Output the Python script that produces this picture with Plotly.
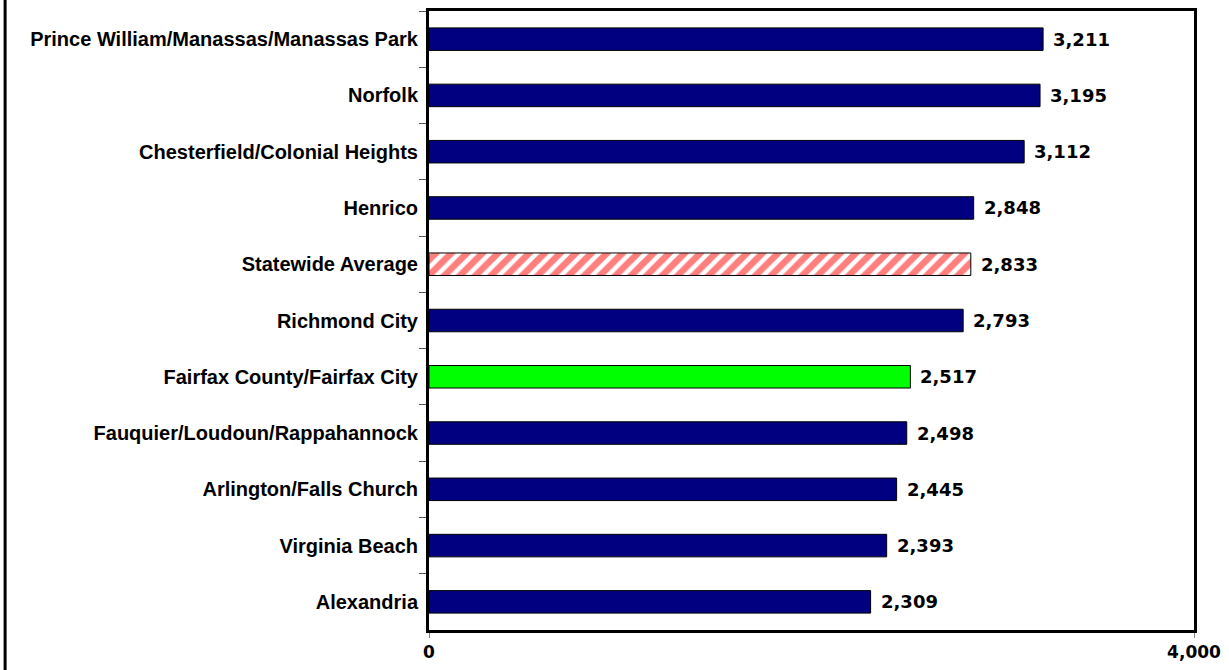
import plotly.graph_objects as go

categories = [
    "Prince William/Manassas/Manassas Park",
    "Norfolk",
    "Chesterfield/Colonial Heights",
    "Henrico",
    "Statewide Average",
    "Richmond City",
    "Fairfax County/Fairfax City",
    "Fauquier/Loudoun/Rappahannock",
    "Arlington/Falls Church",
    "Virginia Beach",
    "Alexandria",
]
values = [3211, 3195, 3112, 2848, 2833, 2793, 2517, 2498, 2445, 2393, 2309]
x_ticks = [0, 4000]

NAVY = "#000080"
GREEN = "#00FF00"

main_cats = [c for c in categories if c != "Statewide Average"]
main_vals = [v for c, v in zip(categories, values) if c != "Statewide Average"]
main_colors = [GREEN if c.startswith("Fairfax") else NAVY for c in main_cats]
avg_cats = [c for c in categories if c == "Statewide Average"]
avg_vals = [v for c, v in zip(categories, values) if c == "Statewide Average"]

fig = go.Figure()
fig.add_trace(go.Bar(
    x=main_vals, y=main_cats, orientation="h",
    marker=dict(color=main_colors, line=dict(color="black", width=1)),
    hoverinfo="skip",
))
fig.add_trace(go.Bar(
    x=avg_vals, y=avg_cats, orientation="h",
    marker=dict(color="white", line=dict(color="black", width=1),
                pattern=dict(shape="/", fgcolor="#FF0000", bgcolor="white",
                             size=11, solidity=0.6, fillmode="overlay")),
    hoverinfo="skip",
))

for c, v in zip(categories, values):
    fig.add_annotation(
        x=v, y=c, text=f"{v:,}", showarrow=False,
        xanchor="left", xshift=8, yshift=0,
        font=dict(family="DejaVu Sans", size=18, color="black", weight="bold"),
    )

fig.update_layout(
    width=1229,
    height=670,
    margin=dict(l=429, r=33, t=8, b=38),
    plot_bgcolor="white",
    paper_bgcolor="white",
    bargap=0.6,
    barmode="overlay",
    showlegend=False,
    xaxis=dict(
        range=[0, 4000],
        tickvals=x_ticks,
        ticktext=[f"{v:,}" for v in x_ticks],
        ticks="outside",
        ticklen=5,
        tickcolor="#888888",
        showgrid=False,
        zeroline=False,
        showline=True,
        linecolor="black",
        linewidth=3,
        mirror=True,
        tickfont=dict(family="DejaVu Sans", size=17, color="black", weight="bold"),
    ),
    yaxis=dict(
        categoryorder="array",
        categoryarray=categories,
        autorange="reversed",
        ticks="outside",
        tickson="boundaries",
        ticklen=7,
        tickcolor="#555555",
        ticklabelstandoff=4,
        showgrid=False,
        showline=True,
        linecolor="black",
        linewidth=3,
        mirror=True,
        tickfont=dict(family="Liberation Sans", size=20, color="black", weight="bold"),
    ),
    shapes=[
        dict(type="line", xref="paper", yref="paper",
             x0=(4 - 429) / 767, x1=(4 - 429) / 767, y0=-1, y1=2,
             line=dict(color="black", width=3)),
    ],
)

fig.write_html(
    "out.html",
    config={"displayModeBar": False},
    post_script="document.body.style.margin='0';document.body.style.overflow='hidden';",
)
